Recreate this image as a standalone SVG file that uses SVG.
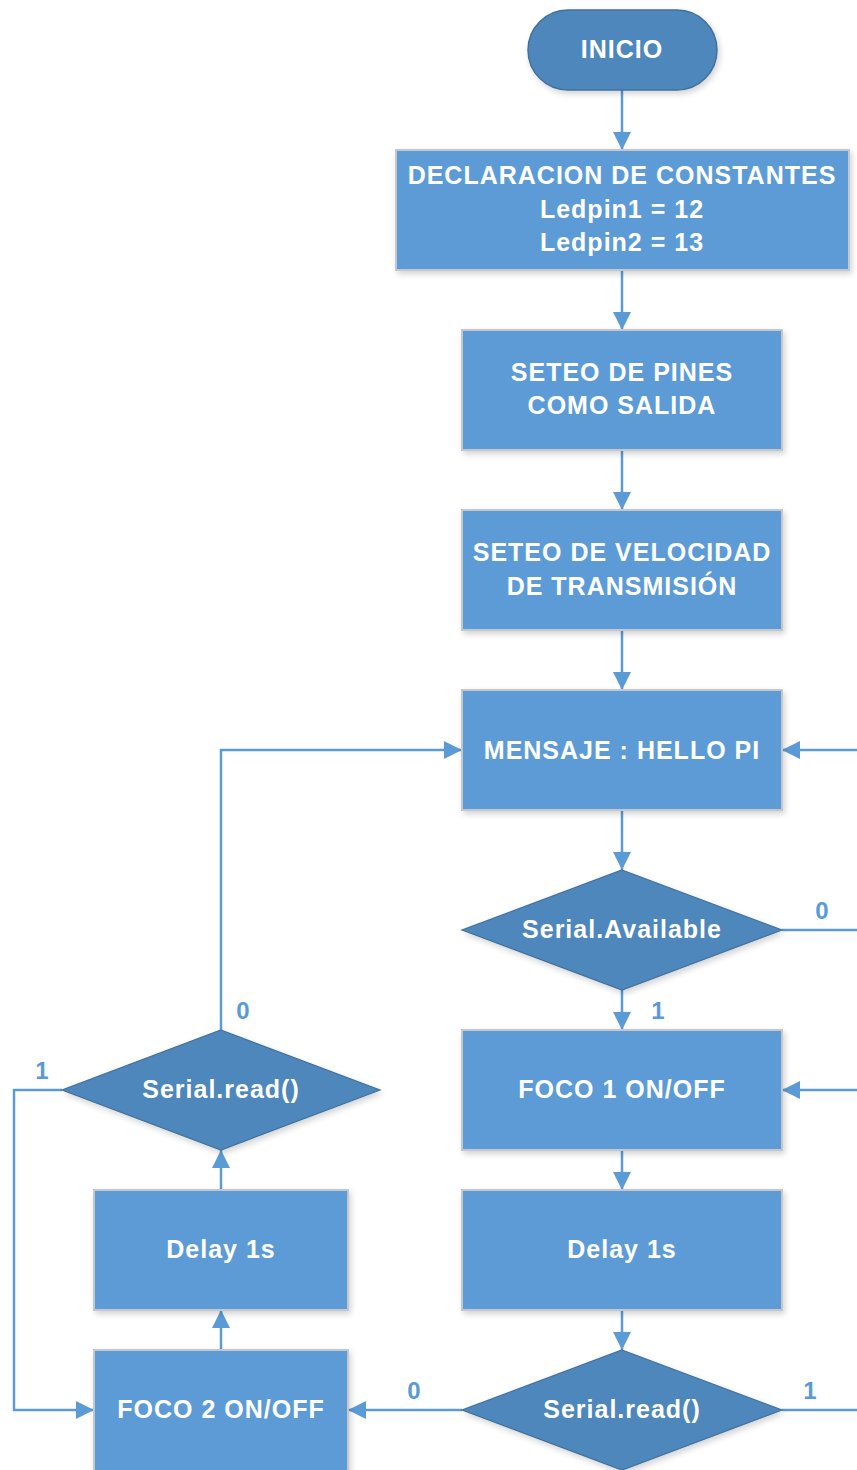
<svg xmlns="http://www.w3.org/2000/svg" width="857" height="1470" viewBox="0 0 857 1470">
<style>
.box{fill:#5b9bd5;stroke:#c4c8cc;stroke-width:2;filter:url(#sh)}
.dec{fill:#4e87bb;stroke:#41719c;stroke-width:1.2;filter:url(#sh)}
.term{fill:#4e87bb;stroke:#41719c;stroke-width:1.5;filter:url(#sh)}
.t{font-family:"Liberation Sans",Arial,sans-serif;font-weight:bold;font-size:25px;fill:#ffffff;text-anchor:middle;letter-spacing:1px}
.lbl{font-family:"Liberation Sans",Arial,sans-serif;font-weight:bold;font-size:24px;fill:#5b9bd5;text-anchor:middle}
.c{fill:none;stroke:#5b9bd5;stroke-width:2.5}
.ca{fill:none;stroke:#5b9bd5;stroke-width:2.5;marker-end:url(#ah)}
</style>
<defs>
<marker id="ah" markerUnits="userSpaceOnUse" markerWidth="18" markerHeight="18" refX="18" refY="9" orient="auto" viewBox="0 0 18 18">
<path d="M0,0 L18,9 L0,18 z" fill="#5b9bd5"/>
</marker>
<filter id="sh" x="-10%" y="-10%" width="125%" height="130%">
<feGaussianBlur in="SourceAlpha" stdDeviation="3"/>
<feOffset dx="2" dy="3" result="b"/>
<feComponentTransfer><feFuncA type="linear" slope="0.18"/></feComponentTransfer>
<feMerge><feMergeNode/><feMergeNode in="SourceGraphic"/></feMerge>
</filter>
</defs>
<rect width="857" height="1470" fill="#ffffff"/>
<g id="connectors">
<path class="ca" d="M622,90 V150"/>
<path class="ca" d="M622,270 V330"/>
<path class="ca" d="M622,450 V510"/>
<path class="ca" d="M622,630 V690"/>
<path class="ca" d="M622,810 V870"/>
<path class="ca" d="M622,990 V1030"/>
<path class="ca" d="M622,1150 V1190"/>
<path class="ca" d="M622,1310 V1350"/>
<path class="c" d="M782,930 H857"/>
<path class="ca" d="M857,750 H782"/>
<path class="ca" d="M857,1090 H782"/>
<path class="c" d="M782,1410 H857"/>
<path class="ca" d="M462,1410 H348"/>
<path class="ca" d="M221,1350 V1310"/>
<path class="ca" d="M221,1190 V1150"/>
<path class="ca" d="M221,1030 V750 H462"/>
<path class="ca" d="M62,1090 H14 V1410 H94"/>
<text class="lbl" x="822" y="919">0</text>
<text class="lbl" x="658" y="1019">1</text>
<text class="lbl" x="243" y="1019">0</text>
<text class="lbl" x="42" y="1079">1</text>
<text class="lbl" x="414" y="1399">0</text>
<text class="lbl" x="810" y="1399">1</text>
</g>
<g id="inicio">
<rect class="term" x="528" y="10" width="189" height="80" rx="40" ry="40"/>
<text class="t" x="622" y="58">INICIO</text>
</g>
<g id="declaracion">
<rect class="box" x="396" y="150" width="453" height="120"/>
<text class="t" x="622" y="184">DECLARACION DE CONSTANTES</text>
<text class="t" x="622" y="218">Ledpin1 = 12</text>
<text class="t" x="622" y="251">Ledpin2 = 13</text>
</g>
<g id="seteo-pines">
<rect class="box" x="462" y="330" width="320" height="120"/>
<text class="t" x="622" y="381">SETEO DE PINES</text>
<text class="t" x="622" y="414">COMO SALIDA</text>
</g>
<g id="seteo-velocidad">
<rect class="box" x="462" y="510" width="320" height="120"/>
<text class="t" x="622" y="561">SETEO DE VELOCIDAD</text>
<text class="t" x="622" y="595">DE TRANSMISIÓN</text>
</g>
<g id="mensaje">
<rect class="box" x="462" y="690" width="320" height="120"/>
<text class="t" x="622" y="759">MENSAJE : HELLO PI</text>
</g>
<g id="serial-available">
<polygon class="dec" points="622,870 782,930 622,990 462,930"/>
<text class="t" x="622" y="938">Serial.Available</text>
</g>
<g id="foco1">
<rect class="box" x="462" y="1030" width="320" height="120"/>
<text class="t" x="622" y="1098">FOCO 1 ON/OFF</text>
</g>
<g id="delay-right">
<rect class="box" x="462" y="1190" width="320" height="120"/>
<text class="t" x="622" y="1258">Delay 1s</text>
</g>
<g id="serial-read-right">
<polygon class="dec" points="622,1350 782,1410 622,1470 462,1410"/>
<text class="t" x="622" y="1418">Serial.read()</text>
</g>
<g id="foco2">
<rect class="box" x="94" y="1350" width="254" height="130"/>
<text class="t" x="221" y="1418">FOCO 2 ON/OFF</text>
</g>
<g id="delay-left">
<rect class="box" x="94" y="1190" width="254" height="120"/>
<text class="t" x="221" y="1258">Delay 1s</text>
</g>
<g id="serial-read-left">
<polygon class="dec" points="221,1030 380,1090 221,1150 62,1090"/>
<text class="t" x="221" y="1098">Serial.read()</text>
</g>
</svg>
